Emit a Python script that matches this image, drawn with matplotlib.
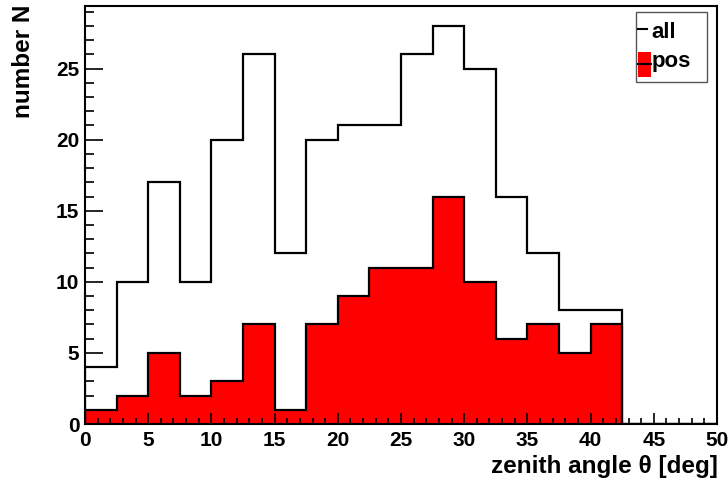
import numpy as np
import matplotlib
matplotlib.use('Agg')
from matplotlib import pyplot as plt
from matplotlib.patches import Rectangle
from matplotlib.lines import Line2D
from matplotlib.ticker import MultipleLocator

plt.rcParams['font.family'] = ['Liberation Sans', 'DejaVu Sans']
plt.rcParams['font.weight'] = 'bold'

# histogram data (zenith angle bins of 2.5 deg)

bin_edges = np.arange(0, 50.01, 2.5)
counts_all = [4, 10, 17, 10, 20, 26, 12, 20, 21, 21, 26, 28, 25, 16, 12, 8, 8, 0, 0, 0]
counts_pos = [1, 2, 5, 2, 3, 7, 1, 7, 9, 11, 11, 16, 10, 6, 7, 5, 7, 0, 0, 0]

x_label = 'zenith angle θ [deg]'
y_label = 'number N'
legend_labels = ['all', 'pos']

# figure

fig = plt.figure(figsize=(7.28, 4.82), dpi=100)
ax = fig.add_axes([85 / 728, 1 - 424 / 482, 632 / 728, 418 / 482])

ax.stairs(counts_pos, bin_edges, fill=True, facecolor='#ff0000', edgecolor='none', baseline=0)
ax.stairs(counts_pos, bin_edges, color='black', lw=1.6, baseline=0)
ax.stairs(counts_all, bin_edges, color='black', lw=1.6, baseline=0)

ax.set_xlim(0, 50)
ax.set_ylim(0, max(counts_all) * 1.05)

ax.xaxis.set_major_locator(MultipleLocator(5))
ax.xaxis.set_minor_locator(MultipleLocator(1))
ax.yaxis.set_major_locator(MultipleLocator(5))
ax.yaxis.set_minor_locator(MultipleLocator(1))

ax.tick_params(axis='both', which='both', direction='in', top=False, right=False,
               labelsize=15, width=1.2)
ax.tick_params(axis='y', which='major', length=13, pad=4)
ax.tick_params(axis='y', which='minor', length=6.5)
ax.tick_params(axis='x', which='major', length=8, pad=5)
ax.tick_params(axis='x', which='minor', length=4)
for lab in ax.get_xticklabels() + ax.get_yticklabels():
    lab.set_fontweight('bold')

for sp in ax.spines.values():
    sp.set_linewidth(1.5)

# axis titles, ROOT style (flush to the ends)

fig.text(24 / 728, 1 - 5 / 482, y_label, rotation=90, ha='center', va='top',
         fontsize=17.5, fontweight='bold')
fig.text(718 / 728, 1 - 467 / 482, x_label, ha='right', va='center',
         fontsize=17.5, fontweight='bold')

# legend box

W, H = 728, 482
box = Rectangle((636 / W, 1 - 82 / H), 71 / W, 70 / H, transform=fig.transFigure,
                facecolor='white', edgecolor='#555555', lw=1.0, zorder=5)
fig.add_artist(box)
fig.add_artist(Line2D([638 / W, 647 / W], [1 - 29 / H, 1 - 29 / H], transform=fig.transFigure,
                      color='black', lw=1.5, zorder=6))
fig.text(651 / W, 1 - 32 / H, legend_labels[0], ha='left', va='center', fontsize=16,
         fontweight='bold', zorder=6)
fig.add_artist(Rectangle((638 / W, 1 - 77 / H), 13 / W, 25 / H, transform=fig.transFigure,
                         facecolor='#ff0000', edgecolor='none', zorder=6))
fig.add_artist(Line2D([638 / W, 651 / W], [1 - 64 / H, 1 - 64 / H], transform=fig.transFigure,
                      color='black', lw=1.5, zorder=7))
fig.text(652 / W, 1 - 62 / H, legend_labels[1], ha='left', va='center', fontsize=16,
         fontweight='bold', zorder=6)

plt.savefig('out.png', dpi=100)
plt.close('all')
